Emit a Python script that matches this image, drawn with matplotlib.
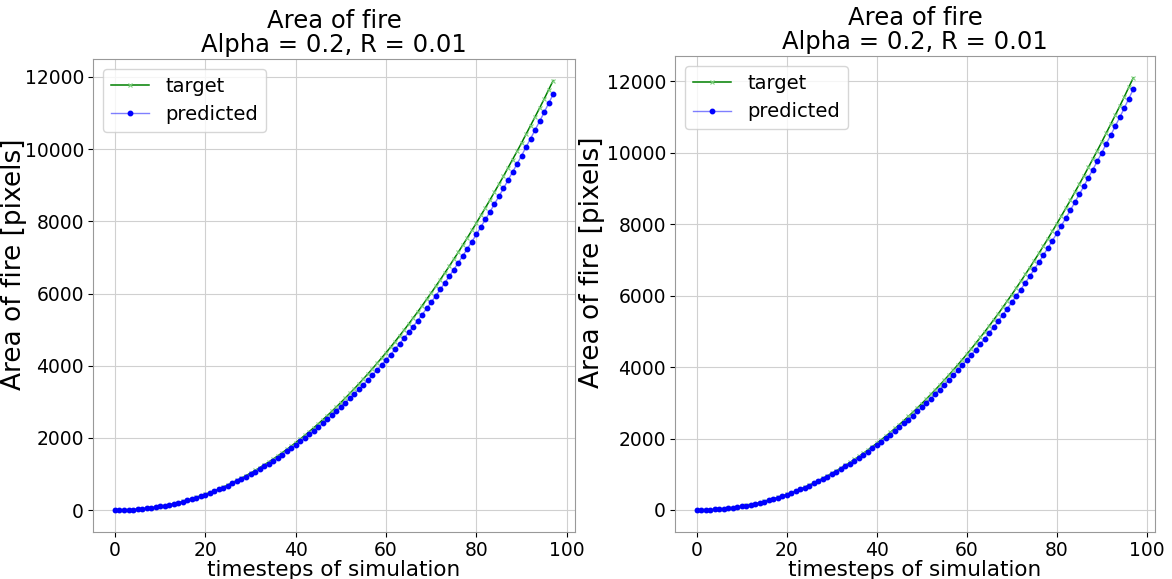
import numpy as np
import matplotlib
matplotlib.use("Agg")
import matplotlib.pyplot as plt

# timesteps 0..97
steps = list(range(98))

# left run: target / predicted area of fire (pixels)
target_a = [1, 1, 4, 8, 15, 24, 35, 49, 65, 83,
            103, 126, 151, 178, 208, 241, 275, 312, 352, 394,
            439, 486, 536, 588, 642, 700, 760, 822, 887, 955,
            1024, 1097, 1172, 1250, 1331, 1414, 1499, 1588, 1679, 1772,
            1869, 1968, 2069, 2174, 2281, 2390, 2503, 2618, 2735, 2857,
            2980, 3106, 3234, 3365, 3499, 3636, 3776, 3918, 4064, 4212,
            4360, 4514, 4670, 4830, 4989, 5154, 5323, 5490, 5664, 5842,
            6017, 6200, 6382, 6571, 6757, 6952, 7145, 7346, 7544, 7751,
            7955, 8168, 8378, 8591, 8813, 9031, 9252, 9484, 9711, 9941,
            10174, 10418, 10656, 10898, 11142, 11390, 11649, 11902]
pred_a = [1, 1, 4, 8, 14, 23, 34, 47, 63, 80,
          100, 122, 146, 173, 202, 234, 267, 303, 342, 383,
          427, 473, 521, 572, 624, 680, 738, 798, 861, 927,
          994, 1064, 1136, 1211, 1289, 1369, 1451, 1536, 1624, 1714,
          1807, 1901, 1997, 2096, 2197, 2300, 2407, 2515, 2625, 2740,
          2856, 2975, 3095, 3218, 3344, 3473, 3605, 3739, 3877, 4017,
          4157, 4305, 4455, 4609, 4762, 4921, 5085, 5247, 5416, 5589,
          5759, 5936, 6112, 6295, 6475, 6664, 6851, 7046, 7238, 7439,
          7637, 7847, 8053, 8262, 8481, 8695, 8912, 9141, 9364, 9591,
          9820, 10061, 10295, 10534, 10774, 11018, 11273, 11522]

# right run
target_b = [1, 1, 4, 8, 15, 24, 35, 49, 65, 83,
            103, 126, 151, 178, 208, 241, 275, 312, 352, 394,
            439, 486, 536, 588, 642, 700, 760, 822, 887, 955,
            1024, 1097, 1172, 1250, 1331, 1414, 1499, 1588, 1679, 1772,
            1869, 1968, 2069, 2174, 2281, 2390, 2503, 2618, 2735, 2857,
            2980, 3106, 3234, 3365, 3499, 3636, 3776, 3918, 4064, 4212,
            4360, 4514, 4671, 4831, 4991, 5158, 5328, 5497, 5673, 5854,
            6032, 6218, 6403, 6596, 6786, 6985, 7182, 7388, 7591, 7804,
            8013, 8232, 8449, 8668, 8897, 9122, 9351, 9591, 9826, 10064,
            10306, 10558, 10806, 11057, 11311, 11569, 11838, 12102]
pred_b = [1, 1, 4, 8, 14, 23, 34, 47, 63, 80,
          100, 123, 147, 174, 203, 235, 268, 304, 343, 385,
          429, 475, 523, 574, 627, 683, 741, 802, 865, 931,
          998, 1069, 1141, 1217, 1295, 1376, 1458, 1544, 1632, 1723,
          1816, 1911, 2008, 2108, 2210, 2313, 2421, 2530, 2641, 2758,
          2875, 2995, 3116, 3240, 3367, 3497, 3631, 3766, 3905, 4046,
          4187, 4336, 4488, 4643, 4798, 4960, 5126, 5290, 5462, 5639,
          5813, 5994, 6173, 6361, 6546, 6740, 6932, 7133, 7331, 7539,
          7743, 7959, 8173, 8388, 8615, 8836, 9062, 9299, 9531, 9766,
          10005, 10255, 10499, 10748, 10998, 11253, 11518, 11779]

runs = [(target_a, pred_a), (target_b, pred_b)]
title = "Area of fire\nAlpha = 0.2, R = 0.01"

fig = plt.figure(figsize=(11.72, 5.79), dpi=100)
boxes = [[0.0794, 0.082, 0.4113, 0.816], [0.576, 0.082, 0.4096, 0.821]]
ylabel_x = [-0.137, -0.146]

for box, lx, (tgt, prd) in zip(boxes, ylabel_x, runs):
    ax = fig.add_axes(box)
    ax.plot(steps, tgt, color="green", linewidth=1.1, marker="x",
            markersize=3, markeredgecolor="#7fd07f", markeredgewidth=0.8,
            label="target")
    ax.plot(steps, prd, color=(0, 0, 1, 0.5), linewidth=1.0, marker="o",
            markersize=3.2, markerfacecolor="blue", markeredgecolor="blue",
            label="predicted")
    ax.set_title(title, fontsize=17.5, linespacing=1.0, pad=5)
    ax.set_xlabel("timesteps of simulation", fontsize=15.5, labelpad=0)
    ax.set_ylabel("Area of fire [pixels]", fontsize=19)
    ax.yaxis.set_label_coords(lx, 0.566)
    ax.tick_params(labelsize=13.5, pad=3)
    ax.grid(True, color="#d0d0d0", linewidth=0.8)
    ax.legend(loc="upper left", fontsize=14)
    for s in ax.spines.values():
        s.set_color("#999999")

fig.savefig("out.png", dpi=100)
